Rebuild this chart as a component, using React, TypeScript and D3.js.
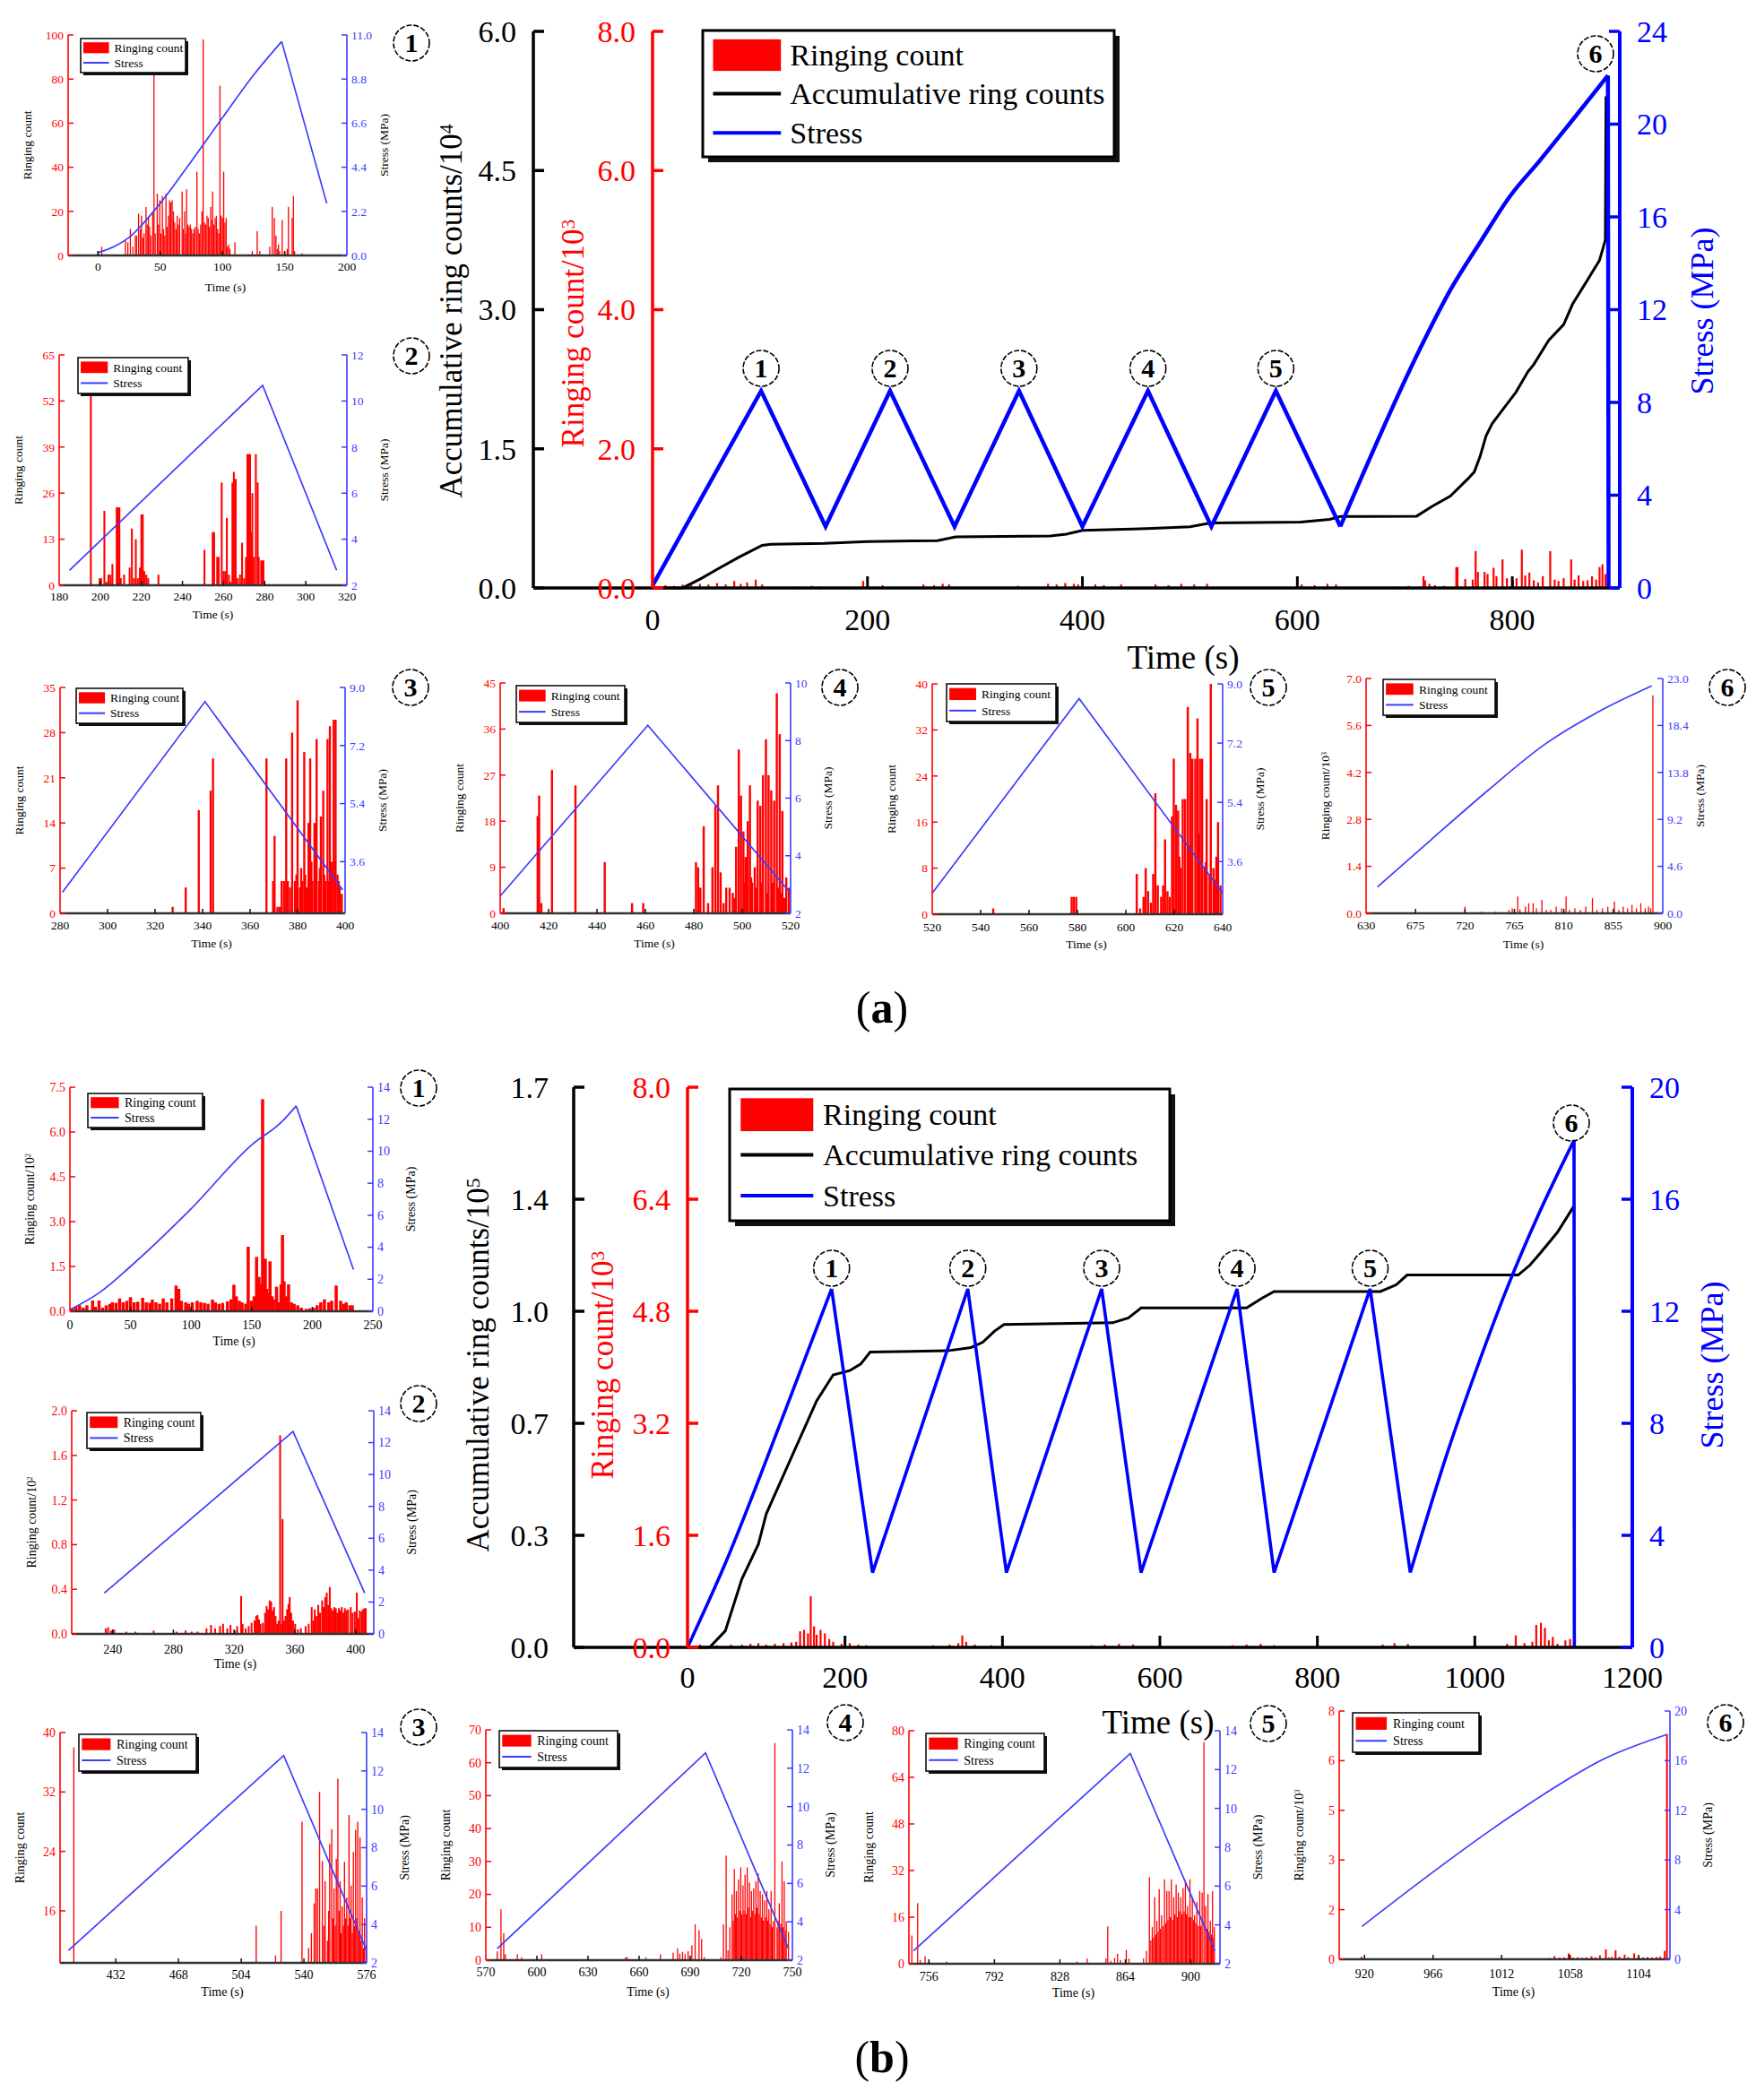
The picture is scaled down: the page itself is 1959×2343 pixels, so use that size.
import React from "react";
import * as d3 from "d3";

type Pt = [number, number];

const SERIF = "'Liberation Serif', 'Times New Roman', Times, serif";
const RED = "#ff0000";
const BLUE = "#0000ff";
const LBLUE = "#3c3cff";

// ---------- (a) overview ----------
const MAIN_A_STRESS: Pt[] = [
  [0, 0.1], [101, 8.5], [161, 2.65], [221, 8.5], [281, 2.65], [341, 8.5], [400, 2.65],
  [461, 8.5], [520, 2.65], [580, 8.5], [640, 2.65], [714, 10.3], [743, 12.9], [770, 14.9],
  [798, 16.9], [826, 18.45], [853, 20.0], [889, 22.1], [889.6, 0],
];
const MAIN_A_SMOOTH: Pt[] = [[640, 889]];
const MAIN_A_CUM: Pt[] = [
  [0, 0], [28, 0], [45, 0.1], [60, 0.2], [80, 0.33], [102, 0.46], [110, 0.47], [160, 0.48],
  [200, 0.5], [265, 0.51], [282, 0.55], [370, 0.56], [385, 0.58], [400, 0.62], [460, 0.64],
  [500, 0.66], [519, 0.7], [603, 0.71], [630, 0.74], [640, 0.77], [711, 0.774], [725.7, 0.882],
  [742.3, 0.99], [759, 1.18], [764.6, 1.25], [770.1, 1.42], [775.6, 1.64], [781.2, 1.77],
  [792.3, 1.94], [803.4, 2.11], [814.5, 2.33], [820, 2.41], [833.9, 2.67], [847.8, 2.84],
  [856.1, 3.06], [870, 3.32], [881.1, 3.53], [886.6, 3.75], [887.2, 5.3],
];
const MAIN_A_RING: Pt[] = [
  [12, 0.04], [20, 0.03], [28, 0.05], [36, 0.04], [44, 0.06], [52, 0.05], [60, 0.07], [68, 0.05],
  [76, 0.1], [82, 0.06], [88, 0.08], [96, 0.12], [102, 0.05], [132, 0.02], [148, 0.03], [156, 0.02],
  [196, 0.1], [214, 0.04], [252, 0.05], [262, 0.04], [270, 0.06], [276, 0.05], [340, 0.03],
  [368, 0.06], [376, 0.05], [384, 0.07], [392, 0.06], [396, 0.05], [412, 0.05], [420, 0.04],
  [436, 0.05], [468, 0.05], [480, 0.04], [492, 0.06], [504, 0.05], [516, 0.06], [604, 0.05],
  [616, 0.04], [628, 0.06], [636, 0.05], [690, 0.02], [703.5, 0.03], [717.4, 0.17], [718.8, 0.11],
  [722.9, 0.06], [728, 0.04], [736.8, 0.03], [747.9, 0.3], [749, 0.3], [756.2, 0.13], [763.2, 0.12],
  [765.9, 0.53], [768, 0.23], [774.2, 0.23], [777, 0.2], [782.6, 0.29], [785.3, 0.17], [790.9, 0.41],
  [795, 0.14], [800.6, 0.11], [804, 0.14], [808.9, 0.55], [812, 0.18], [815.9, 0.22], [820, 0.11],
  [824, 0.08], [828.4, 0.17], [835.3, 0.53], [839.5, 0.12], [843, 0.1], [847.8, 0.14], [854.8, 0.41],
  [858, 0.12], [861.7, 0.18], [866, 0.1], [870, 0.11], [874.2, 0.17], [878, 0.12], [881.2, 0.3],
  [883.9, 0.34], [886.7, 0.2], [889.5, 6.56],
];
const MAIN_A_PEAKS = [101, 221, 341, 461, 580];
const MAIN_A_TICKS = { x: [0, 200, 400, 600, 800], cum: [0, 1.5, 3, 4.5, 6], ring: [0, 2, 4, 6, 8], stress: [0, 4, 8, 12, 16, 20, 24] };

// ---------- (b) overview ----------
const MAIN_B_STRESS: Pt[] = [
  [0, 0], [48, 3.0], [122, 8.3], [183, 12.8], [235, 2.67], [356, 12.8], [405, 2.67], [526, 12.8],
  [576, 2.67], [698, 12.8], [745, 2.67], [867, 12.8], [918, 2.67], [965, 6.94], [1003, 10.0],
  [1042, 12.9], [1080, 15.4], [1126, 18.1], [1126.4, 0],
];
const MAIN_B_SMOOTH: Pt[] = [[0, 183], [918, 1126]];
const MAIN_B_CUM: Pt[] = [
  [0, 0], [28, 0], [48, 0.05], [69, 0.207], [90, 0.313], [100, 0.405], [132, 0.577], [164, 0.748],
  [185, 0.827], [206, 0.84], [220, 0.86], [232, 0.896], [330, 0.9], [360, 0.91], [375, 0.926],
  [390, 0.96], [402, 0.98], [540, 0.985], [560, 1.0], [576, 1.03], [710, 1.03], [730, 1.06],
  [745, 1.08], [880, 1.08], [900, 1.1], [914, 1.13], [1055, 1.13], [1070, 1.16], [1083, 1.196],
  [1105, 1.26], [1126, 1.34],
];
const MAIN_B_RING: Pt[] = [
  [16, 0.04], [37, 0.03], [55, 0.04], [69, 0.04], [80, 0.05], [90, 0.06], [100, 0.04], [111, 0.05],
  [122, 0.06], [132, 0.07], [138, 0.08], [143, 0.23], [148, 0.25], [153, 0.2], [156.5, 0.73],
  [160.7, 0.3], [164, 0.18], [169, 0.25], [174.5, 0.2], [180, 0.12], [185, 0.08], [195.6, 0.05],
  [206, 0.06], [217, 0.04], [227, 0.03], [312, 0.03], [333, 0.04], [344, 0.06], [349, 0.17],
  [354, 0.08], [365, 0.04], [386, 0.03], [513, 0.03], [530, 0.04], [548, 0.05], [566, 0.04],
  [692, 0.03], [710, 0.04], [728, 0.05], [745, 0.03], [883, 0.04], [898, 0.06], [915, 0.05],
  [1041, 0.05], [1052, 0.17], [1063, 0.06], [1073, 0.08], [1078, 0.32], [1084, 0.35], [1089, 0.28],
  [1094, 0.1], [1099, 0.15], [1105, 0.05], [1115, 0.1], [1121, 0.12], [1126, 7.25],
];
const MAIN_B_PEAKS = [183, 356, 526, 698, 867];
const MAIN_B_TICKS = { x: [0, 200, 400, 600, 800, 1000, 1200], cum: [0, 0.34, 0.68, 1.02, 1.36, 1.7], ring: [0, 1.6, 3.2, 4.8, 6.4, 8], stress: [0, 4, 8, 12, 16, 20] };

// ---------- (a) cycles ----------
const A1_BARS: Pt[] = [
  [0, 2], [3, 4], [22, 7], [24, 6], [26, 12], [28, 4], [30, 9], [31, 9], [32.6, 19], [34, 12], [35, 18],
  [36, 8], [37, 10], [38.6, 22], [39.5, 14], [40.5, 17], [41.5, 13], [42.5, 9], [44, 20], [45, 88],
  [46, 10], [47.6, 28], [48.6, 14], [49.6, 25], [50.6, 10], [51.7, 27], [52.7, 12], [53.7, 9], [54.6, 28],
  [55.6, 13], [56.6, 18], [57.6, 25], [58.6, 24], [59.6, 25], [60.6, 20], [61.6, 15], [62.6, 12],
  [63.6, 18], [64.6, 14], [65.6, 17], [67.6, 29], [68.6, 12], [69.6, 20], [70.4, 10], [71.2, 30],
  [72.2, 14], [73.2, 13], [74.2, 14], [75.2, 12], [76.2, 10], [77.2, 12], [78.2, 13], [79.5, 38],
  [80.5, 12], [81.5, 10], [82.5, 14], [83.5, 20], [84.5, 98], [85.6, 15], [86.6, 14], [87.6, 18],
  [88.6, 17], [89.6, 13], [90.6, 22], [91.3, 16], [92.1, 29], [93.1, 14], [94.1, 17], [95.1, 18],
  [96.1, 12], [97.1, 10], [98, 77], [99, 18], [100, 17], [101, 38], [102, 15], [103, 17], [104, 4],
  [105, 5], [106, 3], [110, 6], [124, 2], [127.9, 11], [130, 2], [138, 4], [140, 22], [141.7, 17],
  [143, 9], [144, 3], [145, 5], [146, 2], [148, 16], [150, 2], [152, 3], [153, 22], [156, 17], [157, 27],
  [158, 2], [164, 1],
];
const A1_STRESS: Pt[] = [[0.5, 0.15], [25, 0.9], [50, 2.6], [75, 4.7], [100, 6.87], [125, 9.0], [147.6, 10.67], [183.8, 2.6]];
const A1_SMOOTH: Pt[] = [[0, 147.6]];
const A1_TICKS = { x: [0, 50, 100, 150, 200], ring: [0, 20, 40, 60, 80, 100], stress: [0, 2.2, 4.4, 6.6, 8.8, 11] };

const A2_BARS: Pt[] = [
  [195.4, 60], [199.7, 2], [200.4, 2], [202, 21], [203, 1], [204, 3], [205, 3], [205.9, 6], [208, 22],
  [208.7, 22], [209.3, 22], [210, 2], [211.6, 3], [214.3, 5], [215.4, 16], [216.4, 2], [217.3, 13],
  [218.3, 2], [219.3, 5], [220, 20], [220.7, 20], [221.4, 4], [222.4, 3], [223.3, 2], [228.3, 3],
  [250.7, 10], [254.7, 15], [255.4, 15], [256.9, 8], [257.6, 8], [259.1, 29], [260, 4], [260.8, 4],
  [261.6, 19], [262.6, 3], [263.4, 1], [264.3, 29], [265, 32], [265.9, 30], [266.9, 2], [268, 3],
  [269, 12], [270, 2], [270.9, 8], [271.6, 37], [272.3, 37], [272.9, 37], [273.3, 15], [274, 26],
  [274.7, 8], [275.7, 37], [276.6, 29], [277.1, 8], [278.3, 7], [278.9, 7], [279.4, 7],
];
const A2_STRESS: Pt[] = [[185, 2.65], [279, 10.68], [315, 2.65]];
const A2_TICKS = { x: [180, 200, 220, 240, 260, 280, 300, 320], ring: [0, 13, 26, 39, 52, 65], stress: [2, 4, 6, 8, 10, 12] };

const A3_BARS: Pt[] = [
  [327.4, 1], [332.9, 4], [338.4, 16], [343.4, 19], [344.4, 24], [366.9, 24], [369.7, 5], [370.3, 12],
  [371.5, 1], [372.4, 1], [373.3, 5], [374.3, 5], [375.2, 24], [375.9, 5], [376.8, 4], [377.7, 28],
  [378.9, 5], [379.5, 6], [380, 33], [381, 4], [381.5, 7], [382, 5], [382.8, 25], [383.2, 6], [383.7, 4],
  [384.6, 14], [385.3, 24], [385.8, 8], [386.2, 5], [387.1, 14], [387.6, 6], [388, 27], [389, 5],
  [389.4, 7], [389.8, 15], [390.8, 19], [391.2, 6], [391.7, 5], [392.6, 27], [393.1, 5], [393.6, 29],
  [394.3, 8], [395.2, 30], [395.6, 8], [396, 30], [396.8, 6], [397.3, 5], [397.7, 4], [398.6, 3],
];
const A3_STRESS: Pt[] = [[281, 2.65], [341, 8.56], [399, 2.72]];
const A3_TICKS = { x: [280, 300, 320, 340, 360, 380, 400], ring: [0, 7, 14, 21, 28, 35], stress: [3.6, 5.4, 7.2, 9.0] };

const A4_BARS: Pt[] = [
  [401.4, 1], [415.5, 19], [416.1, 23], [417, 2], [421.4, 28], [431.1, 25], [443.2, 10], [454.5, 2],
  [459.1, 2], [480.9, 10], [481.8, 9], [482.7, 5], [484.1, 17], [485.9, 2], [487.7, 9], [488.9, 21],
  [490, 25], [491.1, 8], [492.3, 2], [493.4, 5], [494.8, 5], [496.1, 4], [496.8, 3], [497.5, 13],
  [498.6, 32], [499.5, 23], [500.5, 16], [501, 6], [501.4, 11], [502.3, 18], [503.2, 25], [503.7, 7],
  [504.1, 6], [505.2, 9], [505.8, 5], [506.4, 22], [507.5, 21], [508, 6], [508.6, 27], [509.8, 34],
  [510.3, 4], [510.9, 27], [512, 24], [512.6, 6], [513.2, 22], [514.3, 43], [514.9, 5], [515.5, 35],
  [516.1, 4], [516.6, 20], [517.4, 3], [518.2, 7], [519.3, 5],
];
const A4_STRESS: Pt[] = [[400, 2.6], [461, 8.53], [520, 2.7]];
const A4_TICKS = { x: [400, 420, 440, 460, 480, 500, 520], ring: [0, 9, 18, 27, 36, 45], stress: [2, 4, 6, 8, 10] };

const A5_BARS: Pt[] = [
  [545.2, 1], [577.6, 3], [578.5, 3], [579.5, 3], [604.5, 7], [605.9, 1], [607.3, 3], [608.2, 8],
  [609.2, 4], [610.4, 2], [611.3, 7], [612.2, 21], [613.2, 5], [614.6, 3], [615.4, 5], [616.2, 13],
  [617.2, 4], [618.1, 3], [619.1, 17], [619.8, 27], [620.7, 19], [621.6, 18], [622.1, 10], [622.6, 8],
  [623.5, 20], [624.5, 20], [625.6, 36], [626.1, 12], [626.6, 28], [627.5, 27], [628.7, 27], [629.6, 34],
  [630.1, 14], [630.6, 27], [631.5, 27], [632.5, 8], [633, 9], [633.4, 20], [634.6, 7], [635.1, 40],
  [636.2, 8], [636.8, 6], [637.4, 10], [638.1, 16], [639.1, 5],
];
const A5_STRESS: Pt[] = [[520, 2.64], [580.7, 8.55], [640, 2.64]];
const A5_TICKS = { x: [520, 540, 560, 580, 600, 620, 640], ring: [0, 8, 16, 24, 32, 40], stress: [3.6, 5.4, 7.2, 9.0] };

const A6_BARS: Pt[] = [
  [700, 0.02], [720, 0.2], [735, 0.05], [748, 0.05], [760, 0.1], [763, 0.15], [768, 0.5], [770, 0.12],
  [775, 0.2], [778, 0.3], [782, 0.3], [785, 0.15], [790, 0.4], [794, 0.1], [798, 0.1], [803, 0.2],
  [808, 0.15], [812, 0.5], [815, 0.1], [820, 0.15], [825, 0.1], [830, 0.2], [836, 0.45], [840, 0.1],
  [845, 0.15], [850, 0.2], [856, 0.35], [860, 0.1], [864, 0.2], [868, 0.15], [872, 0.25], [876, 0.15],
  [880, 0.3], [884, 0.15], [887, 0.2], [889, 0.15], [891, 6.5],
];
const A6_STRESS: Pt[] = [[640.3, 2.57], [689.5, 7.24], [741, 12.05], [793, 16.58], [845, 19.94], [890, 22.27]];
const A6_SMOOTH: Pt[] = [[640, 890]];
const A6_TICKS = { x: [630, 675, 720, 765, 810, 855, 900], ring: [0, 1.4, 2.8, 4.2, 5.6, 7], stress: [0, 4.6, 9.2, 13.8, 18.4, 23] };

// ---------- (b) cycles ----------
const B1_BARS: Pt[] = [
  [2, 0.1], [5, 0.15], [8, 0.2], [11, 0.12], [14, 0.2], [18.7, 0.36], [21, 0.15], [24, 0.36], [27, 0.12],
  [30, 0.2], [33, 0.25], [35, 0.3], [38, 0.28], [41, 0.43], [44, 0.3], [47, 0.35], [50, 0.47], [53, 0.3],
  [56, 0.32], [60, 0.45], [63, 0.3], [66, 0.28], [68, 0.39], [71, 0.3], [74, 0.25], [77, 0.43], [80, 0.3],
  [84, 0.43], [87.6, 0.86], [89.8, 0.75], [92, 0.35], [95.5, 0.3], [98, 0.25], [101, 0.3], [105, 0.35],
  [108, 0.3], [111, 0.28], [114, 0.25], [117.6, 0.39], [120, 0.3], [123, 0.25], [126, 0.28], [130, 0.33],
  [133, 0.4], [135.3, 0.89], [137.3, 0.5], [139.8, 0.35], [142, 0.3], [145, 0.25], [147.1, 2.16],
  [149.6, 0.35], [152, 0.5], [154, 1.82], [155, 0.89], [156, 1.15], [157.5, 0.9], [159, 7.1], [160.2, 0.9],
  [161.2, 1.76], [162.4, 0.75], [163.4, 0.6], [165.1, 1.67], [166.8, 0.5], [168, 0.4], [170.5, 0.82],
  [172, 0.3], [174.2, 0.9], [175.4, 2.55], [176.7, 1.0], [178.6, 0.5], [180.4, 0.9], [182.8, 0.3],
  [185, 0.25], [188, 0.2], [191, 0.12], [195, 0.08], [198, 0.1], [201, 0.12], [204, 0.2], [207, 0.3],
  [210, 0.4], [213.6, 0.3], [216, 0.35], [219.7, 0.86], [223.4, 0.35], [226, 0.25], [228, 0.3],
  [231, 0.2], [233, 0.2],
];
const B1_STRESS: Pt[] = [[0, 0.1], [25, 1.2], [50, 2.8], [100, 6.4], [150, 10.4], [175, 11.85], [186.7, 12.83], [234, 2.6]];
const B1_SMOOTH: Pt[] = [[0, 186.7]];
const B1_TICKS = { x: [0, 50, 100, 150, 200, 250], ring: [0, 1.5, 3, 4.5, 6, 7.5], stress: [0, 2, 4, 6, 8, 10, 12, 14] };

const B2_BARS: Pt[] = [
  [235.4, 0.05], [237, 0.06], [239, 0.03], [241, 0.04], [249, 0.02], [255, 0.02], [267, 0.03], [282, 0.02],
  [288, 0.03], [292, 0.02], [296, 0.02], [301.8, 0.05], [304.8, 0.08], [307.5, 0.05], [310.7, 0.07],
  [312.7, 0.09], [315.5, 0.05], [317.6, 0.08], [320.5, 0.03], [322, 0.07], [324.6, 0.34], [325.6, 0.09],
  [327.6, 0.05], [329.6, 0.07], [331.5, 0.1], [333.5, 0.12], [334.5, 0.16], [335.4, 0.17], [336.4, 0.13],
  [337.4, 0.09], [339, 0.1], [340.4, 0.19], [341.4, 0.25], [342.4, 0.22], [343.4, 0.3], [344.4, 0.29],
  [345.4, 0.21], [346.3, 0.24], [347.3, 0.16], [348.3, 0.09], [349.3, 0.12], [350.3, 1.78], [351.3, 0.09],
  [351.9, 1.03], [352.9, 0.12], [353.9, 0.16], [354.9, 0.22], [355.8, 0.27], [356.6, 0.33], [357.6, 0.19],
  [358.8, 0.12], [360.2, 0.09], [362, 0.04], [364, 0.05], [367.1, 0.07], [369.1, 0.09], [371.1, 0.24],
  [372.1, 0.12], [373.1, 0.22], [374.1, 0.16], [375.4, 0.26], [376.6, 0.19], [378, 0.3], [379, 0.24],
  [380, 0.33], [381, 0.37], [382, 0.26], [383, 0.42], [384, 0.23], [385, 0.21], [386, 0.24], [387, 0.23],
  [388, 0.19], [389, 0.23], [390, 0.21], [390.9, 0.24], [392, 0.19], [393, 0.23], [394, 0.21], [395, 0.22],
  [396.8, 0.24], [398, 0.19], [399.5, 0.2], [400.8, 0.37], [401.8, 0.14], [402.8, 0.21], [404, 0.2],
  [404.8, 0.22], [405.8, 0.23], [406.7, 0.23],
];
const B2_STRESS: Pt[] = [[234.5, 2.56], [358.8, 12.7], [406, 2.56]];
const B2_TICKS = { x: [240, 280, 320, 360, 400], ring: [0, 0.4, 0.8, 1.2, 1.6, 2], stress: [0, 2, 4, 6, 8, 10, 12, 14] };

const B3_BARS: Pt[] = [
  [407.9, 38], [512.6, 14], [523.7, 10], [526.9, 16], [538.9, 28], [542.7, 11], [544.3, 13], [545.9, 17],
  [546.8, 19], [547.8, 19], [549, 32], [550.6, 22.7], [551.4, 14], [552.2, 20], [553.5, 12], [554.2, 16],
  [554.8, 25], [556, 27], [556.7, 15], [557.3, 19], [558, 14], [558.6, 23], [559.5, 33.8], [560.2, 16],
  [560.8, 20], [561.4, 13], [562, 16.6], [562.7, 14], [563.3, 22.6], [564, 15], [564.6, 17.8], [565.3, 14],
  [565.9, 28.9], [566.5, 15], [567.1, 19.4], [567.8, 13], [568.4, 23.9], [569, 14], [569.7, 26.9],
  [570.3, 15], [570.9, 28], [571.5, 13], [572.2, 25.9], [572.8, 12], [573.5, 17.8], [574.1, 11],
  [574.8, 15], [575.7, 11.4],
];
const B3_STRESS: Pt[] = [[404.8, 2.65], [528.4, 12.8], [576, 2.65]];
const B3_TICKS = { x: [432, 468, 504, 540, 576], ring: [16, 24, 32, 40], stress: [2, 4, 6, 8, 10, 12, 14] };

const B4_BARS: Pt[] = [
  [576.7, 2.7], [578.9, 15.5], [580.5, 8.2], [581.4, 1.8], [588.5, 1.8], [591, 0.9], [602.8, 1.8], [652, 0.9],
  [653, 0.9], [664, 0.9], [672.5, 1.8], [680, 2.3], [682.6, 3.6], [683.9, 2], [685.5, 2.5], [687, 1.8],
  [688.8, 2.7], [691, 4.5], [692.9, 10.9], [695.2, 9.1], [696.7, 6.4], [698.3, 0.9], [708, 0.9], [709.5, 10.9],
  [711.1, 31.8], [712.2, 3], [713.3, 10], [714.6, 20], [715.3, 12], [715.9, 27.7], [716.5, 14], [717.1, 21],
  [717.8, 13], [718.4, 24.5], [719, 15], [719.7, 28.2], [720.3, 14], [721, 22.7], [721.6, 15], [722.2, 26],
  [722.9, 14], [723.5, 28.2], [724.2, 16], [724.8, 23.6], [725.4, 13], [726, 21], [726.7, 15], [727.3, 21.8],
  [728, 14], [728.6, 24], [729.2, 16], [729.9, 26.4], [730.5, 14], [731.1, 21], [731.8, 13], [732.4, 20],
  [733, 12], [733.7, 18.2], [734.3, 13], [735, 21], [735.6, 12], [736.2, 15.5], [736.9, 11], [737.5, 21],
  [738.1, 10], [738.8, 11.8], [739.7, 66], [741, 10], [741.6, 12], [742.3, 17.3], [743.2, 11], [743.9, 30],
  [744.5, 10], [745.2, 24], [745.8, 9], [746.4, 11.8], [747.7, 8.6],
];
const B4_STRESS: Pt[] = [[576.7, 2.6], [699, 12.8], [747.7, 2.6]];
const B4_TICKS = { x: [570, 600, 630, 660, 690, 720, 750], ring: [0, 10, 20, 30, 40, 50, 60, 70], stress: [2, 4, 6, 8, 10, 12, 14] };

const B5_BARS: Pt[] = [
  [746.6, 9.7], [749.8, 20.8], [751.2, 1.3], [753.9, 2.6], [756, 0.8], [765.7, 0.8], [837.4, 0.8], [843, 1.8],
  [853.3, 1.8], [854.3, 12.8], [856, 1], [858.1, 2], [859.7, 3.4], [861.3, 1.3], [864.5, 4.8], [866, 1.8],
  [874, 1.8], [875.6, 4.4], [877.2, 29.7], [878, 8], [878.8, 12.6], [879.5, 9], [880.1, 22.9], [880.7, 10],
  [881.3, 14.7], [882, 11], [882.6, 25.6], [883.3, 12], [883.9, 16.7], [884.7, 13], [885.5, 29], [886.1, 14],
  [886.8, 25], [887.4, 15], [888, 25], [888.7, 16], [889.3, 29], [889.9, 15], [890.6, 22.9], [891.2, 17],
  [891.9, 27.2], [892.5, 16], [893.1, 24.4], [893.8, 18], [894.4, 22.9], [895, 17], [895.7, 26], [896.3, 18],
  [897, 28], [897.6, 17], [898.2, 19.8], [898.9, 16], [899.5, 29], [900.1, 16], [900.8, 22.9], [901.4, 15],
  [902, 16.7], [902.7, 14], [903.3, 21.3], [904.1, 13], [904.9, 25], [905.5, 13], [906.2, 24.4], [907.2, 76],
  [908.1, 19.8], [908.8, 12], [909.4, 23.9], [910, 11], [910.7, 14.7], [911.3, 10], [911.9, 25], [912.5, 9],
  [912.9, 12.6],
];
const B5_STRESS: Pt[] = [[747.5, 2.66], [866.7, 12.83], [913.2, 2.66]];
const B5_TICKS = { x: [756, 792, 828, 864, 900], ring: [0, 16, 32, 48, 64, 80], stress: [2, 4, 6, 8, 10, 12, 14] };

const B6_BARS: Pt[] = [
  [918, 0.08], [1040, 0.03], [1044, 0.04], [1047.5, 0.1], [1051, 0.05], [1054, 0.06], [1057, 0.19], [1060, 0.05],
  [1063, 0.06], [1066, 0.05], [1069, 0.06], [1072.4, 0.1], [1075, 0.06], [1078, 0.13], [1082, 0.32], [1084, 0.06],
  [1086, 0.07], [1088.5, 0.29], [1091, 0.08], [1094.6, 0.15], [1097, 0.07], [1101, 0.19], [1104, 0.08],
  [1107, 0.06], [1110, 0.07], [1113, 0.06], [1116, 0.07], [1118.4, 0.08], [1121.5, 0.27], [1123, 7.26],
];
const B6_STRESS: Pt[] = [[918.3, 2.65], [965, 6.94], [1003.4, 10.3], [1041.7, 13.4], [1080, 16.1], [1123, 18.1]];
const B6_SMOOTH: Pt[] = [[918, 1123]];
const B6_TICKS = { x: [920, 966, 1012, 1058, 1104], ring: [0, 1.6, 3.2, 4.8, 6.4, 8], stress: [0, 4, 8, 12, 16, 20] };

// ---------- helpers ----------

// straight pieces between the loading/unloading corners, monotone curves inside the "smooth" ranges
function stressPaths(data: Pt[], smooth: Pt[] | undefined, x: any, y: any): string[] {
  const lin = d3.line<Pt>().x((d) => x(d[0])).y((d) => y(d[1]));
  const mono = d3.line<Pt>().x((d) => x(d[0])).y((d) => y(d[1])).curve(d3.curveMonotoneX);
  const ranges = smooth || [];
  const inRange = (t: number) => ranges.findIndex(([a, b]) => t >= a && t <= b);
  const out: string[] = [];
  ranges.forEach(([a, b]) => {
    const pts = data.filter((d) => d[0] >= a && d[0] <= b);
    if (pts.length > 1) out.push(mono(pts) || "");
  });
  let run: Pt[] = [];
  for (let i = 0; i < data.length - 1; i++) {
    const r0 = inRange(data[i][0]);
    const smoothSeg = r0 >= 0 && r0 === inRange(data[i + 1][0]);
    if (smoothSeg) {
      if (run.length > 1) out.push(lin(run) || "");
      run = [];
    } else {
      if (run.length === 0) run.push(data[i]);
      run.push(data[i + 1]);
    }
  }
  if (run.length > 1) out.push(lin(run) || "");
  return out;
}

function Sup({ t }: { t: string }) {
  return <tspan dy="-0.42em" fontSize="62%">{t}</tspan>;
}

function RotText({ cx, cy, fs, fill = "#000", children }: any) {
  return (
    <text transform={`translate(${cx + fs * 0.33},${cy}) rotate(-90)`} textAnchor="middle" fontSize={fs} fill={fill}>
      {children}
    </text>
  );
}

function Circled({ cx, cy, label, r = 20, fs = 30 }: any) {
  return (
    <g>
      <ellipse cx={cx} cy={cy} rx={r} ry={r} fill="none" stroke="#000" strokeWidth={1.6} strokeDasharray="6 2" />
      <text x={cx} y={cy + fs * 0.34} textAnchor="middle" fontSize={fs} fontWeight="bold">{label}</text>
    </g>
  );
}

function Legend({ box, fs, rows, main }: any) {
  const [x, y, w, h] = box;
  const sh = main ? 6 : 3;
  const fr = rows.length === 3 ? [0.19, 0.5, 0.81] : [0.27, 0.71];
  const a = x + w * 0.025;
  const b = x + w * (main ? 0.19 : 0.27);
  return (
    <g>
      <rect x={x + sh} y={y + sh} width={w} height={h} fill="#111" />
      <rect x={x} y={y} width={w} height={h} fill="#fff" stroke="#000" strokeWidth={main ? 3 : 1.5} />
      {rows.map((r: any, i: number) => {
        const cy = y + h * fr[i];
        return (
          <g key={i}>
            {r.kind === "rect" ? (
              <rect x={a} y={cy - h * (main ? 0.12 : 0.16)} width={b - a} height={h * (main ? 0.25 : 0.32)} fill={RED} />
            ) : (
              <line x1={a} x2={b} y1={cy} y2={cy} stroke={r.color} strokeWidth={main ? 4 : 2} />
            )}
            <text x={x + w * (main ? 0.212 : 0.32)} y={cy + fs * 0.35} fontSize={fs}>{r.label}</text>
          </g>
        );
      })}
    </g>
  );
}

const SMALL_ROWS = [
  { kind: "rect", label: "Ringing count" },
  { kind: "line", color: LBLUE, label: "Stress" },
];
const MAIN_ROWS = [
  { kind: "rect", label: "Ringing count" },
  { kind: "line", color: "#000", label: "Accumulative ring counts" },
  { kind: "line", color: BLUE, label: "Stress" },
];

function SmallPlot({ c }: any) {
  const { L, R, T, B, fs } = c;
  const x = d3.scaleLinear().domain(c.xDom).range([L, R]);
  const yr = d3.scaleLinear().domain(c.rDom).range([B, T]);
  const yb = d3.scaleLinear().domain(c.bDom).range([B, T]);
  const bw = Math.max(1.3, x(c.xDom[0] + c.barW) - x(c.xDom[0]));
  const base = yr(c.rDom[0]);
  return (
    <g>
      {c.bars.map(([t, v]: Pt, i: number) => (
        <rect key={i} x={x(t) - bw / 2} y={yr(v)} width={bw} height={Math.max(0, base - yr(v))} fill={RED} />
      ))}
      {stressPaths(c.stress, c.smooth, x, yb).map((d, i) => (
        <path key={i} d={d} fill="none" stroke={LBLUE} strokeWidth={1.7} />
      ))}
      <line x1={L} x2={R} y1={B} y2={B} stroke="#333" strokeWidth={2.4} />
      {c.ticks.x.map((t: number) => (
        <g key={"x" + t}>
          {t > c.xDom[0] && t < c.xDom[1] && <line x1={x(t)} x2={x(t)} y1={B} y2={B - 5} stroke="#111" strokeWidth={1.5} />}
          <text x={x(t)} y={B + c.tickDy + fs * 0.35} textAnchor="middle" fontSize={fs}>{t}</text>
        </g>
      ))}
      <line x1={L} x2={L} y1={B} y2={T} stroke={RED} strokeWidth={1.6} />
      {c.ticks.ring.map((t: number) => (
        <g key={"r" + t}>
          <line x1={L} x2={L + 6} y1={yr(t)} y2={yr(t)} stroke={RED} strokeWidth={1.5} />
          <text x={L - 5} y={yr(t) + fs * 0.35} textAnchor="end" fontSize={fs} fill={RED}>{c.rFmt(t)}</text>
        </g>
      ))}
      <line x1={R} x2={R} y1={B} y2={T} stroke={LBLUE} strokeWidth={1.6} />
      {c.ticks.stress.map((t: number) => (
        <g key={"b" + t}>
          <line x1={R - 6} x2={R} y1={yb(t)} y2={yb(t)} stroke={LBLUE} strokeWidth={1.5} />
          <text x={R + 5} y={yb(t) + fs * 0.35} fontSize={fs} fill={LBLUE}>{c.bFmt(t)}</text>
        </g>
      ))}
      <text x={(L + R) / 2 + c.timeDx} y={B + c.titleDy + fs * 0.35} textAnchor="middle" fontSize={fs}>Time (s)</text>
      <RotText cx={L - 45} cy={(T + B) / 2} fs={fs}>
        Ringing count{c.rSup ? "/10" : ""}{c.rSup ? <Sup t={c.rSup} /> : null}
      </RotText>
      <RotText cx={R + 42} cy={(T + B) / 2} fs={fs}>Stress (MPa)</RotText>
      <Legend box={c.leg} fs={fs} rows={SMALL_ROWS} />
      <Circled cx={c.circ[0]} cy={c.circ[1]} label={c.circ[2]} />
    </g>
  );
}

function MainPlot({ c }: any) {
  const { K, Lr, R, T, B } = c;
  const x = d3.scaleLinear().domain(c.xDom).range([Lr, R]);
  const yk = d3.scaleLinear().domain(c.kDom).range([B, T]);
  const yr = d3.scaleLinear().domain(c.rDom).range([B, T]);
  const yb = d3.scaleLinear().domain(c.bDom).range([B, T]);
  const cum = d3.line<Pt>().x((d) => x(d[0])).y((d) => yk(d[1]));
  const fs = 34;
  const bw = 2.2;
  return (
    <g>
      {c.ring.map(([t, v]: Pt, i: number) => (
        <rect key={i} x={x(t) - bw / 2} y={yr(v)} width={bw} height={B - yr(v)} fill={RED} />
      ))}
      <path d={cum(c.cum) || ""} fill="none" stroke="#000" strokeWidth={3} />
      {stressPaths(c.stress, c.smooth, x, yb).map((d, i) => (
        <path key={i} d={d} fill="none" stroke={BLUE} strokeWidth={c.sw} />
      ))}
      <line x1={K} x2={R} y1={B} y2={B} stroke="#000" strokeWidth={3.5} />
      {c.ticks.x.map((t: number) => (
        <g key={"x" + t}>
          {t > c.xDom[0] && t < c.xDom[1] && <line x1={x(t)} x2={x(t)} y1={B} y2={B - 13} stroke="#000" strokeWidth={3} />}
          <text x={x(t)} y={B + c.tickDy + fs * 0.35} textAnchor="middle" fontSize={fs}>{t}</text>
        </g>
      ))}
      <line x1={K} x2={K} y1={B} y2={T} stroke="#000" strokeWidth={3.5} />
      {c.ticks.cum.map((t: number) => (
        <g key={"k" + t}>
          <line x1={K} x2={K + 12} y1={yk(t)} y2={yk(t)} stroke="#000" strokeWidth={3.5} />
          <text x={K - c.kDx} y={yk(t) + fs * 0.35} textAnchor="end" fontSize={fs}>{t.toFixed(1)}</text>
        </g>
      ))}
      <line x1={Lr} x2={Lr} y1={B} y2={T} stroke={RED} strokeWidth={3.5} />
      {c.ticks.ring.map((t: number) => (
        <g key={"r" + t}>
          <line x1={Lr} x2={Lr + 12} y1={yr(t)} y2={yr(t)} stroke={RED} strokeWidth={3.5} />
          <text x={Lr - 19} y={yr(t) + fs * 0.35} textAnchor="end" fontSize={fs} fill={RED}>{t.toFixed(1)}</text>
        </g>
      ))}
      <line x1={R} x2={R} y1={B} y2={T} stroke={BLUE} strokeWidth={4} />
      {c.ticks.stress.map((t: number) => (
        <g key={"b" + t}>
          <line x1={R - 12} x2={R} y1={yb(t)} y2={yb(t)} stroke={BLUE} strokeWidth={3.5} />
          <text x={R + 19} y={yb(t) + fs * 0.35} fontSize={fs} fill={BLUE}>{t}</text>
        </g>
      ))}
      <text x={c.timeXY[0]} y={c.timeXY[1] + 13} textAnchor="middle" fontSize={37}>Time (s)</text>
      <RotText cx={c.kTitle[0]} cy={c.kTitle[1]} fs={35}>
        Accumulative ring counts/10<Sup t={c.kSup} />
      </RotText>
      <RotText cx={c.rTitle[0]} cy={c.rTitle[1]} fs={35} fill={RED}>
        Ringing count/10<Sup t="3" />
      </RotText>
      <RotText cx={c.bTitle[0]} cy={c.bTitle[1]} fs={36} fill={BLUE}>Stress (MPa)</RotText>
      <Legend box={c.leg} fs={34} rows={MAIN_ROWS} main />
      {c.peaks.map((p: number, i: number) => (
        <Circled key={i} cx={x(p)} cy={c.circY} label={String(i + 1)} r={20} fs={30} />
      ))}
      <Circled cx={c.c6[0]} cy={c.c6[1]} label="6" r={20} fs={30} />
    </g>
  );
}

const f0 = (t: number) => String(t);
const f1 = (t: number) => t.toFixed(1);
const fr = (t: number) => String(Math.round(t));

const SMALL = [
  { L: 76, R: 387, T: 39, B: 285, xDom: [-24, 200], rDom: [0, 100], bDom: [0, 11], ticks: A1_TICKS, rFmt: f0, bFmt: f1, bars: A1_BARS, barW: 0.9, stress: A1_STRESS, smooth: A1_SMOOTH, leg: [90, 43, 117, 38], circ: [459, 48, "1"], tickDy: 12, titleDy: 35, timeDx: 20, fs: 13.5 },
  { L: 66, R: 387, T: 396, B: 653, xDom: [180, 320], rDom: [0, 65], bDom: [2, 12], ticks: A2_TICKS, rFmt: f0, bFmt: f0, bars: A2_BARS, barW: 0.9, stress: A2_STRESS, leg: [87, 399, 123, 40], circ: [459, 397, "2"], tickDy: 12, titleDy: 32, timeDx: 11, fs: 13.5 },
  { L: 67, R: 385, T: 767, B: 1019, xDom: [280, 400], rDom: [0, 35], bDom: [2, 9], ticks: A3_TICKS, rFmt: f0, bFmt: f1, bars: A3_BARS, barW: 0.9, stress: A3_STRESS, leg: [85, 768, 119, 39], circ: [458, 767, "3"], tickDy: 13, titleDy: 33, timeDx: 10, fs: 13.5 },
  { L: 558, R: 882, T: 762, B: 1019, xDom: [400, 520], rDom: [0, 45], bDom: [2, 10], ticks: A4_TICKS, rFmt: f0, bFmt: f0, bars: A4_BARS, barW: 0.9, stress: A4_STRESS, leg: [576, 765, 121, 41], circ: [937, 767, "4"], tickDy: 13, titleDy: 33, timeDx: 10, fs: 13.5 },
  { L: 1040, R: 1364, T: 763, B: 1020, xDom: [520, 640], rDom: [0, 40], bDom: [2, 9], ticks: A5_TICKS, rFmt: f0, bFmt: f1, bars: A5_BARS, barW: 0.9, stress: A5_STRESS, leg: [1056, 763, 122, 42], circ: [1415, 767, "5"], tickDy: 14, titleDy: 33, timeDx: 10, fs: 13.5 },
  { L: 1524, R: 1855, T: 757, B: 1019, xDom: [630, 900], rDom: [0, 7], bDom: [0, 23], ticks: A6_TICKS, rFmt: f1, bFmt: f1, bars: A6_BARS, barW: 0.9, stress: A6_STRESS, smooth: A6_SMOOTH, leg: [1543, 758, 125, 40], circ: [1927, 767, "6"], rSup: "3", tickDy: 13, titleDy: 34, timeDx: 10, fs: 13.5 },
  { L: 78, R: 416, T: 1213, B: 1463, xDom: [0, 250], rDom: [0, 7.5], bDom: [0, 14], ticks: B1_TICKS, rFmt: f1, bFmt: f0, bars: B1_BARS, barW: 2.6, stress: B1_STRESS, smooth: B1_SMOOTH, leg: [98, 1220, 128, 38], circ: [467, 1214, "1"], rSup: "2", tickDy: 15, titleDy: 33, timeDx: 14, fs: 14 },
  { L: 80, R: 417, T: 1574, B: 1823, xDom: [213, 412], rDom: [0, 2], bDom: [0, 14], ticks: B2_TICKS, rFmt: f1, bFmt: f0, bars: B2_BARS, barW: 1.2, stress: B2_STRESS, leg: [97, 1576, 127, 40], circ: [467, 1566, "2"], rSup: "2", tickDy: 17, titleDy: 33, timeDx: 14, fs: 14 },
  { L: 67, R: 409, T: 1933, B: 2190, xDom: [400, 576], rDom: [9, 40], bDom: [2, 14], ticks: B3_TICKS, rFmt: f0, bFmt: f0, bars: B3_BARS, barW: 0.7, stress: B3_STRESS, leg: [88, 1935, 131, 41], circ: [467, 1927, "3"], tickDy: 13, titleDy: 32, timeDx: 10, fs: 14 },
  { L: 542, R: 884, T: 1930, B: 2187, xDom: [570, 750], rDom: [0, 70], bDom: [2, 14], ticks: B4_TICKS, rFmt: f0, bFmt: f0, bars: B4_BARS, barW: 0.6, stress: B4_STRESS, leg: [557, 1931, 132, 41], circ: [943, 1922, "4"], tickDy: 13, titleDy: 35, timeDx: 10, fs: 14 },
  { L: 1014, R: 1361, T: 1931, B: 2191, xDom: [745, 916], rDom: [0, 80], bDom: [2, 14], ticks: B5_TICKS, rFmt: f0, bFmt: f0, bars: B5_BARS, barW: 0.6, stress: B5_STRESS, leg: [1033, 1934, 132, 42], circ: [1415, 1923, "5"], tickDy: 14, titleDy: 32, timeDx: 10, fs: 14 },
  { L: 1494, R: 1863, T: 1909, B: 2186, xDom: [903, 1125], rDom: [0, 8], bDom: [0, 20], ticks: B6_TICKS, rFmt: fr, bFmt: f0, bars: B6_BARS, barW: 1.2, stress: B6_STRESS, smooth: B6_SMOOTH, leg: [1509, 1911, 141, 44], circ: [1925, 1922, "6"], rSup: "3", tickDy: 16, titleDy: 36, timeDx: 10, fs: 14 },
];

const MAIN = [
  { K: 595, Lr: 728, R: 1807, T: 35, B: 656, xDom: [0, 900], kDom: [0, 6], rDom: [0, 8], bDom: [0, 24], ticks: MAIN_A_TICKS, ring: MAIN_A_RING, cum: MAIN_A_CUM, stress: MAIN_A_STRESS, smooth: MAIN_A_SMOOTH, sw: 4.5, peaks: MAIN_A_PEAKS, circY: 411, c6: [1780, 60], kDx: 19, tickDy: 35, timeXY: [1320, 733], kTitle: [503, 347], rTitle: [639, 372], bTitle: [1899, 347], kSup: "4", leg: [784, 34, 459, 141] },
  { K: 640, Lr: 767, R: 1821, T: 1213, B: 1838, xDom: [0, 1200], kDom: [0, 1.7], rDom: [0, 8], bDom: [0, 20], ticks: MAIN_B_TICKS, ring: MAIN_B_RING, cum: MAIN_B_CUM, stress: MAIN_B_STRESS, smooth: MAIN_B_SMOOTH, sw: 3.6, peaks: MAIN_B_PEAKS, circY: 1415, c6: [1753, 1253], kDx: 28, tickDy: 33, timeXY: [1292, 1921], kTitle: [533, 1523], rTitle: [672, 1523], bTitle: [1910, 1523], kSup: "5", leg: [814, 1215, 491, 147] },
];

export default function App() {
  return (
    <svg
      width={1959}
      height={2343}
      viewBox="0 0 1959 2343"
      style={{ position: "absolute", left: 0, top: 0, background: "#fff" }}
      fontFamily={SERIF}
    >
      <rect x={0} y={0} width={1959} height={2343} fill="#fff" />
      {MAIN.map((c, i) => <MainPlot key={"m" + i} c={c} />)}
      {SMALL.map((c, i) => <SmallPlot key={"s" + i} c={c} />)}
      <text x={984} y={1141} textAnchor="middle" fontSize={50}>(<tspan fontWeight="bold">a</tspan>)</text>
      <text x={984} y={2312} textAnchor="middle" fontSize={50}>(<tspan fontWeight="bold">b</tspan>)</text>
    </svg>
  );
}
